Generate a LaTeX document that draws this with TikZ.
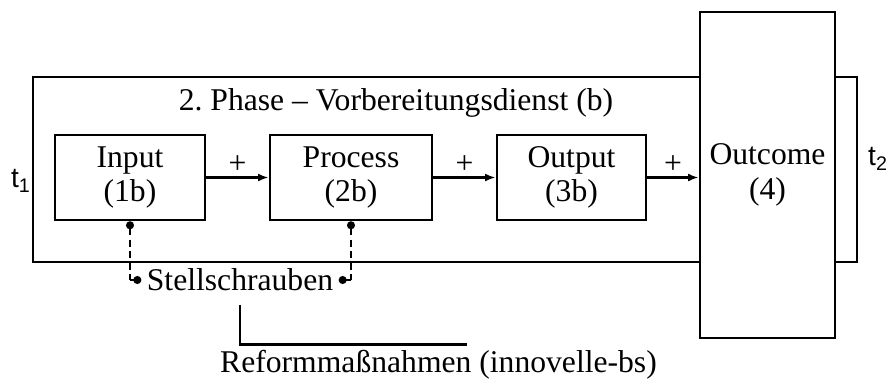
\documentclass[tikz,border=0pt]{standalone}
\usepackage{fontspec}
\setmainfont{Liberation Serif}
\setsansfont{Liberation Sans}
\usepackage{tikz}
\usetikzlibrary{positioning}
\usetikzlibrary{arrows.meta}

\begin{document}
\begin{tikzpicture}[font=\fontsize{18}{19.5}\selectfont,
    box/.style={draw=black, line width=1.5pt, rectangle, align=center, minimum height=1.7cm},
    flow/.style={line width=1.5pt, draw=black, -{Latex[length=6pt,width=4.5pt]}},
    tune/.style={line width=1.5pt, draw=black, dash pattern=on 4pt off 2.6pt, {Circle[length=4.5pt]}-},
    tunelink/.style={line width=1.5pt, draw=black, -{Circle[length=4.5pt]}},
    timelabel/.style={font=\sffamily\fontsize{16}{18}\selectfont, inner sep=0pt}]
    \useasboundingbox (0,0) rectangle (17.8,-7.7);
    \node[draw=black, line width=1.5pt, rectangle, minimum width=16.48cm, minimum height=3.7cm] (phase) at (8.9,-3.39) {};
    \node[draw=black, line width=1.5pt, rectangle, fill=white, align=center, minimum width=2.7cm, minimum height=6.52cm] (outcome) at (15.35,-3.5) {Outcome\\(4)};
    \node (title) at (7.92,-2.06) {2.\ Phase -- Vorbereitungsdienst (b)};
    \node[box, minimum width=3.0cm] (input) at (2.6,-3.55) {Input\\(1b)};
    \node[box, minimum width=3.24cm] (process) at (7.02,-3.55) {Process\\(2b)};
    \node[box, minimum width=2.98cm] (output) at (11.43,-3.55) {Output\\(3b)};
    \draw [flow] (input) -- node[above, inner sep=1.5pt] {+} (process);
    \draw [flow] (process) -- node[above, inner sep=1.5pt] {+} (output);
    \draw [flow] (output.east) -- node[above, inner sep=1.5pt] {+} (output.east -| outcome.west);
    \node[timelabel] (t1) at (0.42,-3.62) {t\textsubscript{1}};
    \node[timelabel] (t2) at (17.56,-3.18) {t\textsubscript{2}};
    \node[inner sep=3pt] (stell) at (4.8,-5.6) {Stellschrauben};
    \coordinate (c1) at (input.south |- stell.west);
    \coordinate (c2) at (process.south |- stell.east);
    \draw [tune] (input.south) -- (c1);
    \draw [tunelink] (c1) -- (stell.west);
    \draw [tune] (process.south) -- (c2);
    \draw [tunelink] (c2) -- (stell.east);
    \node (reform) at (8.77,-7.3) {Reformmaßnahmen (innovelle-bs)};
    \draw [line width=1.5pt, draw=black] ([yshift=-0.16cm]stell.south) |- ([xshift=0.57cm]reform.north);
  \end{tikzpicture}
\end{document}
